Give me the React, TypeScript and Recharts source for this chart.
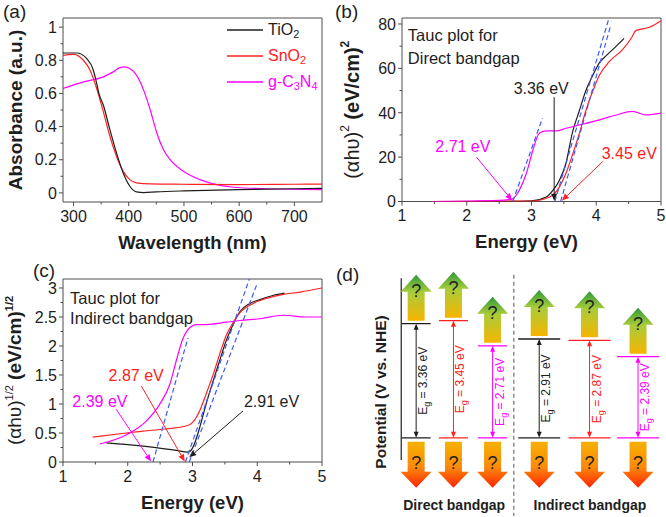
import React from "react";
import {
  ComposedChart,
  Line,
  Scatter,
  XAxis,
  YAxis,
  ReferenceArea,
  ReferenceLine,
  Label,
  Legend,
} from "recharts";

const FONT = '"Liberation Sans", Arial, Helvetica, sans-serif';
const INK = "#1e1e1e";
const FRAME = "#4d4d4d";
const RED = "#ff2020";
const MAGENTA = "#ff00ff";
const BLUE = "#3b5bff";

type Pt = [number, number];

const seriesColor: Record<string, string> = { tio2: INK, sno2: RED, c3n4: MAGENTA };
const seriesName: Record<string, [string, string][]> = {
  tio2: [["TiO", "2"]],
  sno2: [["SnO", "2"]],
  c3n4: [["g-C", "3"], ["N", "4"]],
};

// (a) absorbance vs wavelength
const absTiO2: Pt[] = [
  [281, 0.844], [306, 0.844], [324, 0.81], [336, 0.74], [342, 0.66], [346, 0.6],
  [354, 0.53], [366, 0.38], [378, 0.24], [390, 0.12], [402, 0.04], [414, 0.006],
  [427, 0.002], [450, 0.006], [500, 0.012], [600, 0.02], [700, 0.025], [750, 0.027],
];
const absSnO2: Pt[] = [
  [281, 0.83], [300, 0.836], [318, 0.8], [330, 0.74], [342, 0.63], [354, 0.49],
  [366, 0.34], [378, 0.22], [390, 0.13], [402, 0.08], [414, 0.06], [439, 0.054],
  [500, 0.052], [600, 0.05], [700, 0.052], [750, 0.053],
];
const absC3N4: Pt[] = [
  [281, 0.63], [318, 0.67], [354, 0.7], [372, 0.73], [384, 0.756], [393, 0.76],
  [402, 0.75], [414, 0.71], [427, 0.62], [439, 0.5], [451, 0.36], [463, 0.26],
  [475, 0.2], [499, 0.13], [529, 0.08], [559, 0.05], [590, 0.034], [650, 0.025], [750, 0.02],
];
const wlMajor = [300, 400, 500, 600, 700];
const wlMinor = [350, 450, 550, 650];
const absMajor = [0, 0.2, 0.4, 0.6, 0.8, 1];
const absMinor = [0.1, 0.3, 0.5, 0.7, 0.9];

// (b) Tauc plot, direct
const dirTiO2: Pt[] = [
  [1.5, 0], [2.5, 0], [3.0, 0.3], [3.226, 2], [3.33, 5], [3.43, 9.5], [3.53, 17],
  [3.63, 30.8], [3.74, 41], [3.84, 50], [3.95, 57], [4.05, 62.6], [4.15, 65.6],
  [4.31, 70], [4.43, 73.5],
];
const dirSnO2: Pt[] = [
  [1.46, 0], [3.0, 0.2], [3.28, 2], [3.43, 6.5], [3.53, 12.6], [3.64, 21.7],
  [3.74, 30.8], [3.84, 41], [3.95, 50], [4.05, 57], [4.2, 63], [4.41, 68.6],
  [4.55, 74], [4.61, 77], [4.82, 78.5], [5.0, 81.5],
];
const dirC3N4: Pt[] = [
  [1.46, 0], [2.5, 0.5], [2.71, 1.2], [2.81, 5], [2.92, 12.6], [3.02, 23],
  [3.12, 30.8], [3.23, 31.8], [3.38, 31.8], [3.53, 33], [3.74, 34.5], [4.05, 36.8],
  [4.31, 39], [4.56, 40.6], [4.77, 39], [5.0, 39.8],
];
const dirTangents: Pt[][] = [
  [[2.71, 0], [3.17, 37.6]],
  [[3.36, 0], [4.19, 82]],
  [[3.45, 0], [4.22, 79]],
];
const dirCaption = [
  { x: 1.09, y: 75, text: "Tauc plot for" },
  { x: 1.09, y: 64.6, text: "Direct bandgap" },
];
const dirNotes = [
  { x: 3.15, y: 51, text: "3.36 eV", key: "tio2" },
  { x: 1.94, y: 24.7, text: "2.71 eV", key: "c3n4" },
  { x: 4.51, y: 21.7, text: "3.45 eV", key: "sno2" },
];
const dirArrows = [
  { from: [3.35, 47] as Pt, to: [3.35, 0.3] as Pt, key: "tio2" },
  { from: [2.15, 20] as Pt, to: [2.7, 0.5] as Pt, key: "c3n4" },
  { from: [4.1, 18] as Pt, to: [3.47, 0.4] as Pt, key: "sno2" },
];
const eMajor = [1, 2, 3, 4, 5];
const eMinor = [1.5, 2.5, 3.5, 4.5];
const dirMajor = [0, 20, 40, 60, 80];
const dirMinor = [10, 30, 50, 70];

// (c) Tauc plot, indirect
const indTiO2: Pt[] = [
  [1.67, 0.33], [2.08, 0.29], [2.49, 0.24], [2.75, 0.2], [2.93, 0.17], [3.0, 0.24],
  [3.11, 0.59], [3.21, 1.0], [3.32, 1.4], [3.42, 1.75], [3.52, 2.09], [3.63, 2.38],
  [3.73, 2.59], [3.88, 2.73], [4.04, 2.8], [4.24, 2.87], [4.42, 2.91],
];
const indSnO2: Pt[] = [
  [1.46, 0.43], [1.98, 0.5], [2.49, 0.56], [2.9, 0.62], [3.0, 0.68], [3.11, 0.88],
  [3.21, 1.17], [3.32, 1.51], [3.42, 1.86], [3.52, 2.18], [3.63, 2.41], [3.73, 2.57],
  [3.93, 2.73], [4.14, 2.82], [4.4, 2.89], [4.66, 2.93], [5.0, 3.0],
];
const indC3N4: Pt[] = [
  [1.57, 0.31], [1.98, 0.47], [2.29, 0.71], [2.49, 0.99], [2.65, 1.34], [2.75, 1.75],
  [2.85, 2.12], [2.96, 2.32], [3.06, 2.37], [3.21, 2.37], [3.52, 2.41], [3.73, 2.44],
  [4.04, 2.47], [4.4, 2.53], [4.76, 2.5], [5.0, 2.5],
];
const indTangents: Pt[][] = [
  [[2.39, 0], [2.93, 2.14]],
  [[2.89, 0], [3.88, 3.16]],
  [[2.95, 0], [4.0, 3.08]],
];
const indCaption = [
  { x: 1.11, y: 2.83, text: "Tauc plot for" },
  { x: 1.11, y: 2.48, text: "Indirect bandgap" },
];
const indNotes = [
  { x: 2.13, y: 1.49, text: "2.87 eV", key: "sno2" },
  { x: 1.57, y: 1.05, text: "2.39 eV", key: "c3n4" },
  { x: 4.22, y: 1.05, text: "2.91 eV", key: "tio2" },
];
const indArrows = [
  { from: [2.21, 1.31] as Pt, to: [2.88, 0.01] as Pt, key: "sno2" },
  { from: [1.82, 0.91] as Pt, to: [2.36, 0.01] as Pt, key: "c3n4" },
  { from: [3.78, 0.88] as Pt, to: [2.95, 0.08] as Pt, key: "tio2" },
];
const indMajor = [0, 0.5, 1, 1.5, 2, 2.5, 3];
const indMinor = [0.25, 0.75, 1.25, 1.75, 2.25, 2.75];

// (d) band diagram
const bandMaterial = ["tio2", "sno2", "c3n4", "tio2", "sno2", "c3n4"];
const bandKind = ["direct", "direct", "direct", "indirect", "indirect", "indirect"];
const bandSlot = [1, 2, 3.05, 4.3, 5.65, 6.95];
const bandGapEv = [3.36, 3.45, 2.71, 2.91, 2.87, 2.39];
const groupLabels = [
  { x: 2.02, y: -1.97, text: "Direct bandgap" },
  { x: 5.66, y: -1.97, text: "Indirect bandgap" },
];
const groupDivider = 3.62;
const potentialAxis: Pt[] = [[0.6, -0.65], [0.6, 4.7]];

const toPts = (pts: Pt[]) => pts.map(([x, y]) => ({ x, y }));
const near = (list: number[], v: number) => list.some((m) => Math.abs(m - v) < 1e-6);
const fmt = (v: number) => String(Number(v.toFixed(2)));
const sorted = (a: number[], b: number[]) => [...a, ...b].sort((p, q) => p - q);

const bottomTick = (majors: number[]) => (p: any) => {
  const v = p.payload.value;
  const major = near(majors, v);
  return (
    <g>
      <line x1={p.x} x2={p.x} y1={p.y} y2={p.y + (major ? 4 : 2.5)} stroke={FRAME} />
      {major && (
        <text x={p.x} y={p.y + 19.5} textAnchor="middle" fontSize={16} fontFamily={FONT} fill={INK}>
          {fmt(v)}
        </text>
      )}
    </g>
  );
};

const leftTick = (majors: number[]) => (p: any) => {
  const v = p.payload.value;
  const major = near(majors, v);
  return (
    <g>
      <line x1={p.x} x2={p.x - (major ? 4 : 2.5)} y1={p.y} y2={p.y} stroke={FRAME} />
      {major && (
        <text x={p.x - 6} y={p.y} dy="0.36em" textAnchor="end" fontSize={16} fontFamily={FONT} fill={INK}>
          {fmt(v)}
        </text>
      )}
    </g>
  );
};

const xTitle = (text: string, dx = 0) => (props: any) => {
  const vb = props.viewBox;
  return (
    <text
      x={vb.x + vb.width / 2 + dx}
      y={vb.y + 40}
      textAnchor="middle"
      dominantBaseline="central"
      fontSize={18.5}
      fontWeight={700}
      fontFamily={FONT}
      fill={INK}
    >
      {text}
    </text>
  );
};

const yTitle = (dx: number, body: React.ReactNode, size = 19) => (props: any) => {
  const vb = props.viewBox;
  const cx = vb.x + dx;
  const cy = vb.y + vb.height / 2;
  return (
    <text
      x={cx}
      y={cy}
      transform={`rotate(-90 ${cx} ${cy})`}
      textAnchor="middle"
      dominantBaseline="central"
      fontSize={size}
      fontFamily={FONT}
      fill={INK}
    >
      {body}
    </text>
  );
};

const arrowShape = (color: string) => (p: any) => {
  const { x1, y1, x2, y2 } = p;
  const a = Math.atan2(y2 - y1, x2 - x1);
  const L = 7;
  const W = 3;
  const bx = x2 - L * Math.cos(a);
  const by = y2 - L * Math.sin(a);
  const nx = -Math.sin(a) * W;
  const ny = Math.cos(a) * W;
  return (
    <g>
      <line x1={x1} y1={y1} x2={bx} y2={by} stroke={color} strokeWidth={1} />
      <polygon points={`${x2},${y2} ${bx + nx},${by + ny} ${bx - nx},${by - ny}`} fill={color} />
    </g>
  );
};

const NoteText = (p: any) => {
  const { cx, cy, payload } = p;
  return (
    <text
      x={cx}
      y={cy}
      dominantBaseline="central"
      textAnchor={payload.key ? "middle" : "start"}
      fontSize={payload.key ? 16 : 16.5}
      fontFamily={FONT}
      fill={payload.key ? seriesColor[payload.key] : INK}
    >
      {payload.text}
    </text>
  );
};

const GroupText = (p: any) => (
  <text
    x={p.cx}
    y={p.cy}
    dominantBaseline="central"
    textAnchor="middle"
    fontSize={14}
    fontWeight={700}
    fontFamily={FONT}
    fill={INK}
  >
    {p.payload.text}
  </text>
);

const AbsLegend = () => (
  <div style={{ fontFamily: FONT, fontSize: 16, lineHeight: 1 }}>
    {["tio2", "sno2", "c3n4"].map((k) => (
      <div key={k} style={{ display: "flex", alignItems: "center", height: 26 }}>
        <svg width={36} height={4}>
          <line x1={0} x2={36} y1={2} y2={2} stroke={seriesColor[k]} strokeWidth={1.3} />
        </svg>
        <span style={{ marginLeft: 5, color: seriesColor[k] }}>
          {seriesName[k].map(([t, s], i) => (
            <span key={i}>
              {t}
              <sub style={{ fontSize: "0.68em", verticalAlign: "-0.3em", lineHeight: 0 }}>{s}</sub>
            </span>
          ))}
        </span>
      </div>
    ))}
  </div>
);

const upGrad = (id: string) => (
  <defs>
    <linearGradient id={id} x1="0" y1="0" x2="0" y2="1">
      <stop offset="0" stopColor="#2c9a3c" />
      <stop offset="0.38" stopColor="#a9cc3a" />
      <stop offset="1" stopColor="#f7b400" />
    </linearGradient>
  </defs>
);
const downGrad = (id: string) => (
  <defs>
    <linearGradient id={id} x1="0" y1="0" x2="0" y2="1">
      <stop offset="0" stopColor="#f7b000" />
      <stop offset="0.55" stopColor="#fb8a0c" />
      <stop offset="1" stopColor="#ff2200" />
    </linearGradient>
  </defs>
);

const CbMark = (p: any) => {
  const { cx, cy, payload } = p;
  const half = payload.kind === "direct" ? 14.5 : 21;
  const id = `cb-grad-${payload.i}`;
  const top = cy - 49;
  const bottom = cy - 3;
  const hb = top + 17;
  const bw = 8.5;
  const hw = 15.5;
  return (
    <g>
      {upGrad(id)}
      <line x1={cx - half} x2={cx + half} y1={cy} y2={cy} stroke={seriesColor[payload.m]} strokeWidth={1.3} />
      <polygon
        points={`${cx},${top} ${cx + hw},${hb} ${cx + bw},${hb} ${cx + bw},${bottom} ${cx - bw},${bottom} ${cx - bw},${hb} ${cx - hw},${hb}`}
        fill={`url(#${id})`}
      />
      <text x={cx} y={top + 16} dominantBaseline="central" textAnchor="middle" fontSize={18} fontFamily={FONT} fill={INK}>
        ?
      </text>
    </g>
  );
};

const VbMark = (p: any) => {
  const { cx, cy, payload } = p;
  const half = payload.kind === "direct" ? 14.5 : 21;
  const id = `vb-grad-${payload.i}`;
  const top = cy + 4;
  const tip = cy + 50;
  const hb = cy + 34;
  const bw = 8.5;
  const hw = 15.5;
  return (
    <g>
      {downGrad(id)}
      <line x1={cx - half} x2={cx + half} y1={cy} y2={cy} stroke={seriesColor[payload.m]} strokeWidth={1.3} />
      <polygon
        points={`${cx - bw},${top} ${cx + bw},${top} ${cx + bw},${hb} ${cx + hw},${hb} ${cx},${tip} ${cx - hw},${hb} ${cx - bw},${hb}`}
        fill={`url(#${id})`}
      />
      <text x={cx} y={cy + 25} dominantBaseline="central" textAnchor="middle" fontSize={18} fontFamily={FONT} fill={INK}>
        ?
      </text>
    </g>
  );
};

const gapShape = (color: string, eg: number) => (p: any) => {
  const { x1, y1, y2 } = p;
  const x = x1;
  const top = Math.min(y1, y2);
  const bot = Math.max(y1, y2);
  const mid = (top + bot) / 2;
  const tx = x + 11;
  return (
    <g>
      <line x1={x} x2={x} y1={top + 4} y2={bot - 4} stroke={color} strokeWidth={1} />
      <polygon points={`${x},${top} ${x - 2.5},${top + 6} ${x + 2.5},${top + 6}`} fill={color} />
      <polygon points={`${x},${bot} ${x - 2.5},${bot - 6} ${x + 2.5},${bot - 6}`} fill={color} />
      <text
        x={tx}
        y={mid}
        transform={`rotate(-90 ${tx} ${mid})`}
        textAnchor="middle"
        fontSize={12}
        fontFamily={FONT}
        fill={color}
      >
        E<tspan dy={3} fontSize={9}>g</tspan>
        <tspan dy={-3}>{` = ${eg.toFixed(2)} eV`}</tspan>
      </text>
    </g>
  );
};

const curve = (pts: Pt[], key: string) => (
  <Line
    key={key}
    data={toPts(pts)}
    dataKey="y"
    type="monotone"
    stroke={seriesColor[key]}
    strokeWidth={1.2}
    dot={false}
    isAnimationActive={false}
  />
);

const tangents = (list: Pt[][]) =>
  list.map((t, i) => (
    <Line
      key={`tan-${i}`}
      data={toPts(t)}
      dataKey="y"
      type="linear"
      stroke={BLUE}
      strokeWidth={1.2}
      strokeDasharray="5 3"
      dot={false}
      isAnimationActive={false}
    />
  ));

const arrows = (list: { from: Pt; to: Pt; key: string }[]) =>
  list.map((a, i) => (
    <ReferenceLine
      key={`arr-${i}`}
      segment={[{ x: a.from[0], y: a.from[1] }, { x: a.to[0], y: a.to[1] }]}
      stroke={seriesColor[a.key]}
      ifOverflow="visible"
      shape={arrowShape(seriesColor[a.key])}
    />
  ));

const panelLabel = (text: string, left: number, top: number) => (
  <div
    style={{
      position: "absolute",
      left,
      top,
      fontFamily: FONT,
      fontSize: 19,
      lineHeight: 1,
      color: INK,
    }}
  >
    {text}
  </div>
);

const supTitle = (exp: string, lift = 7, supSize = 12) => (
  <>
    <tspan>(αhυ)</tspan>
    <tspan dy={-lift} fontSize={supSize}>{exp}</tspan>
    <tspan dy={lift} fontWeight={700}>{" (eV/cm)"}</tspan>
    <tspan dy={-lift} fontSize={supSize} fontWeight={700}>{exp}</tspan>
  </>
);

export default function App() {
  const bandPoints = bandSlot.map((x, i) => ({
    x,
    i,
    m: bandMaterial[i],
    kind: bandKind[i],
  }));
  const cbPoints = bandPoints.map((b, i) => ({ ...b, y: bandGapEv[i] }));
  const vbPoints = bandPoints.map((b) => ({ ...b, y: 0 }));

  return (
    <div style={{ position: "absolute", left: 0, top: 0, width: 666, height: 517, background: "#fff" }}>
      {/* (a) */}
      <div style={{ position: "absolute", left: 0, top: 0 }}>
        <ComposedChart width={333} height={255} margin={{ top: 18, right: 11, left: 0, bottom: 0 }}>
          <XAxis
            dataKey="x"
            type="number"
            domain={[281, 750]}
            allowDataOverflow
            ticks={sorted(wlMajor, wlMinor)}
            interval={0}
            tick={bottomTick(wlMajor)}
            tickSize={0}
            tickMargin={0}
            tickLine={false}
            axisLine={false}
            height={53}
          >
            <Label content={xTitle("Wavelength (nm)")} />
          </XAxis>
          <YAxis
            dataKey="y"
            type="number"
            domain={[-0.055, 1.055]}
            allowDataOverflow
            ticks={sorted(absMajor, absMinor)}
            interval={0}
            tick={leftTick(absMajor)}
            tickSize={0}
            tickMargin={0}
            tickLine={false}
            axisLine={false}
            width={63}
          >
            <Label content={yTitle(15, <tspan fontWeight={700}>Absorbance (a.u.)</tspan>)} />
          </YAxis>
          <ReferenceArea x1={281} x2={750} y1={-0.055} y2={1.055} fill="none" stroke={FRAME} ifOverflow="visible" />
          {curve(absC3N4, "c3n4")}
          {curve(absSnO2, "sno2")}
          {curve(absTiO2, "tio2")}
          <Legend
            layout="vertical"
            align="center"
            verticalAlign="middle"
            content={() => <AbsLegend />}
            wrapperStyle={{ left: 227, top: 17 }}
          />
        </ComposedChart>
      </div>

      {/* (b) */}
      <div style={{ position: "absolute", left: 333, top: 0 }}>
        <ComposedChart width={333} height={255} margin={{ top: 18, right: 5, left: 0, bottom: 0 }}>
          <XAxis
            dataKey="x"
            type="number"
            domain={[1, 5]}
            allowDataOverflow
            ticks={sorted(eMajor, eMinor)}
            interval={0}
            tick={bottomTick(eMajor)}
            tickSize={0}
            tickMargin={0}
            tickLine={false}
            axisLine={false}
            height={53.5}
          >
            <Label content={xTitle("Energy (eV)", -5)} />
          </XAxis>
          <YAxis
            dataKey="y"
            type="number"
            domain={[0, 82.7]}
            allowDataOverflow
            ticks={sorted(dirMajor, dirMinor)}
            interval={0}
            tick={leftTick(dirMajor)}
            tickSize={0}
            tickMargin={0}
            tickLine={false}
            axisLine={false}
            width={69}
          >
            <Label content={yTitle(19, supTitle("2"), 20)} />
          </YAxis>
          <ReferenceArea x1={1} x2={5} y1={0} y2={82.7} fill="none" stroke={FRAME} ifOverflow="visible" />
          {curve(dirTiO2, "tio2")}
          {curve(dirSnO2, "sno2")}
          {curve(dirC3N4, "c3n4")}
          {tangents(dirTangents)}
          {arrows(dirArrows)}
          <Scatter data={[...dirCaption, ...dirNotes]} shape={NoteText} isAnimationActive={false} />
        </ComposedChart>
      </div>

      {/* (c) */}
      <div style={{ position: "absolute", left: 0, top: 255 }}>
        <ComposedChart width={333} height={262} margin={{ top: 24, right: 11, left: 0, bottom: 0 }}>
          <XAxis
            dataKey="x"
            type="number"
            domain={[1, 5]}
            allowDataOverflow
            ticks={sorted(eMajor, eMinor)}
            interval={0}
            tick={bottomTick(eMajor)}
            tickSize={0}
            tickMargin={0}
            tickLine={false}
            axisLine={false}
            height={55}
          >
            <Label content={xTitle("Energy (eV)")} />
          </XAxis>
          <YAxis
            dataKey="y"
            type="number"
            domain={[0, 3.155]}
            allowDataOverflow
            ticks={sorted(indMajor, indMinor)}
            interval={0}
            tick={leftTick(indMajor)}
            tickSize={0}
            tickMargin={0}
            tickLine={false}
            axisLine={false}
            width={63}
          >
            <Label content={yTitle(14, supTitle("1/2", 5, 11), 19)} />
          </YAxis>
          <ReferenceArea x1={1} x2={5} y1={0} y2={3.155} fill="none" stroke={FRAME} ifOverflow="visible" />
          {curve(indTiO2, "tio2")}
          {curve(indSnO2, "sno2")}
          {curve(indC3N4, "c3n4")}
          {tangents(indTangents)}
          {arrows(indArrows)}
          <Scatter data={[...indCaption, ...indNotes]} shape={NoteText} isAnimationActive={false} />
        </ComposedChart>
      </div>

      {/* (d) */}
      <div style={{ position: "absolute", left: 333, top: 255 }}>
        <ComposedChart width={333} height={262} margin={{ top: 13, right: 0, left: 0, bottom: 1 }}>
          <XAxis dataKey="x" type="number" domain={[0.5, 7.7]} hide allowDataOverflow />
          <YAxis
            dataKey="y"
            type="number"
            domain={[-2.3, 5]}
            allowDataOverflow
            width={64.5}
            tick={false}
            tickLine={false}
            axisLine={false}
          >
            <Label
              content={yTitle(47, <tspan fontWeight={700}>Potential (V vs. NHE)</tspan>, 15.5)}
            />
          </YAxis>
          <ReferenceLine
            segment={[{ x: potentialAxis[0][0], y: potentialAxis[0][1] }, { x: potentialAxis[1][0], y: potentialAxis[1][1] }]}
            stroke={INK}
            strokeWidth={1.2}
            ifOverflow="visible"
          />
          <ReferenceLine
            segment={[{ x: groupDivider, y: 4.8 }, { x: groupDivider, y: -2.3 }]}
            stroke="#555"
            strokeDasharray="4 3"
            ifOverflow="visible"
          />
          {bandSlot.map((x, i) => (
            <ReferenceLine
              key={`gap-${i}`}
              segment={[{ x, y: 0 }, { x, y: bandGapEv[i] }]}
              ifOverflow="visible"
              shape={gapShape(seriesColor[bandMaterial[i]], bandGapEv[i])}
            />
          ))}
          <Scatter data={cbPoints} shape={CbMark} isAnimationActive={false} />
          <Scatter data={vbPoints} shape={VbMark} isAnimationActive={false} />
          <Scatter data={groupLabels} shape={GroupText} isAnimationActive={false} />
        </ComposedChart>
      </div>

      {panelLabel("(a)", 3, 2)}
      {panelLabel("(b)", 335, 2)}
      {panelLabel("(c)", 33, 261)}
      {panelLabel("(d)", 336, 265)}
    </div>
  );
}
